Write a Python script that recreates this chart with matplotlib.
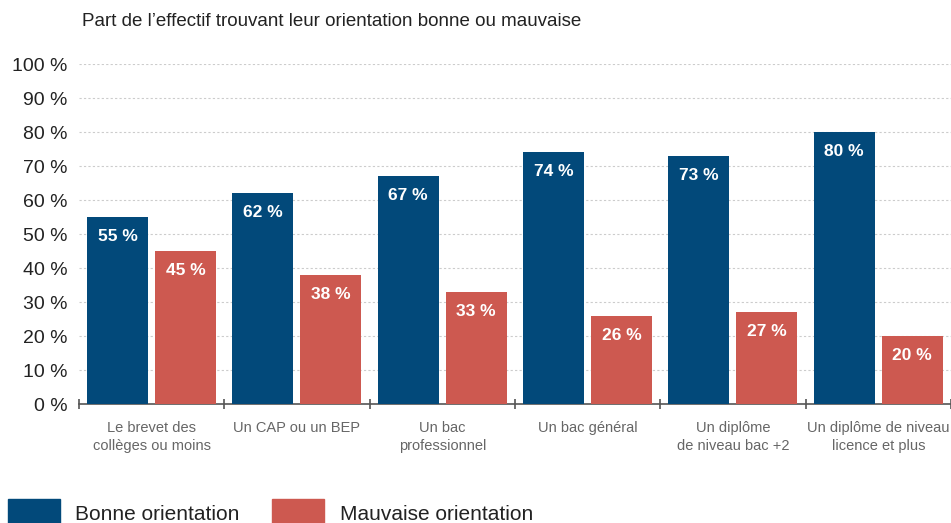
import numpy as np
import matplotlib
matplotlib.use("Agg")
import matplotlib.pyplot as plt
from matplotlib.patches import Rectangle

plt.rcParams['font.family'] = ['Liberation Sans', 'DejaVu Sans']

categories = ["Le brevet des\ncollèges ou moins", "Un CAP ou un BEP", "Un bac\nprofessionnel",
              "Un bac général", "Un diplôme\nde niveau bac +2", "Un diplôme de niveau\nlicence et plus"]
bonne = [55, 62, 67, 74, 73, 80]
mauvaise = [45, 38, 33, 26, 27, 20]
series_names = ["Bonne orientation", "Mauvaise orientation"]
yticks = list(range(0, 101, 10))

BLUE = "#02497a"
RED = "#cd5950"

fig = plt.figure(figsize=(9.51, 5.23), dpi=100)
ax = fig.add_axes([0.083, 0.2275, 0.917, 0.6501])

x = np.arange(len(categories))
w = 0.42
b1 = ax.bar(x - 0.235, bonne, w, color=BLUE, zorder=3)
b2 = ax.bar(x + 0.233, mauvaise, w, color=RED, zorder=3)

for bars, vals in ((b1, bonne), (b2, mauvaise)):
    for rect, v in zip(bars, vals):
        ax.annotate(f"{v} %", (rect.get_x() + rect.get_width() / 2, v),
                    xytext=(0, -14), textcoords="offset points", ha="center", va="center",
                    color="white", fontsize=12.5, fontweight="bold", zorder=4)

ax.set_xlim(-0.5, len(categories) - 0.5)
ax.set_ylim(0, 100)
ax.set_yticks(yticks)
ax.set_yticklabels([f"{t} %" for t in yticks], fontsize=14, color="#222222")
ax.set_xticks(x)
ax.set_xticklabels(categories, fontsize=10.5, color="#666666", linespacing=1.4)
ax.set_xticks(np.arange(-0.5, len(categories), 1), minor=True)
ax.tick_params(axis="x", which="major", length=0, pad=12)
ax.tick_params(axis="x", which="minor", length=7, direction="inout", color="#555555", width=1.2)
ax.tick_params(axis="y", length=0, pad=8)

for s in ("top", "right", "left"):
    ax.spines[s].set_visible(False)
ax.spines["bottom"].set_color("#555555")
ax.spines["bottom"].set_linewidth(1.2)
ax.yaxis.grid(True, linestyle=(0, (2, 2)), color="#cccccc", linewidth=0.8, zorder=0)
ax.set_axisbelow(True)

fig.text(0.086, 0.958, "Part de l\u2019effectif trouvant leur orientation bonne ou mauvaise",
         fontsize=13.5, color="#222222", va="center")

# legend
for (x0, xt), col, name in zip(((0.008, 0.079), (0.286, 0.357)), (BLUE, RED), series_names):
    fig.add_artist(Rectangle((x0, -0.01), 0.055, 0.055, transform=fig.transFigure,
                             color=col, clip_on=False))
    fig.text(xt, 0.016, name, fontsize=15, color="#222222", va="center")

fig.savefig("out.png", dpi=100)
